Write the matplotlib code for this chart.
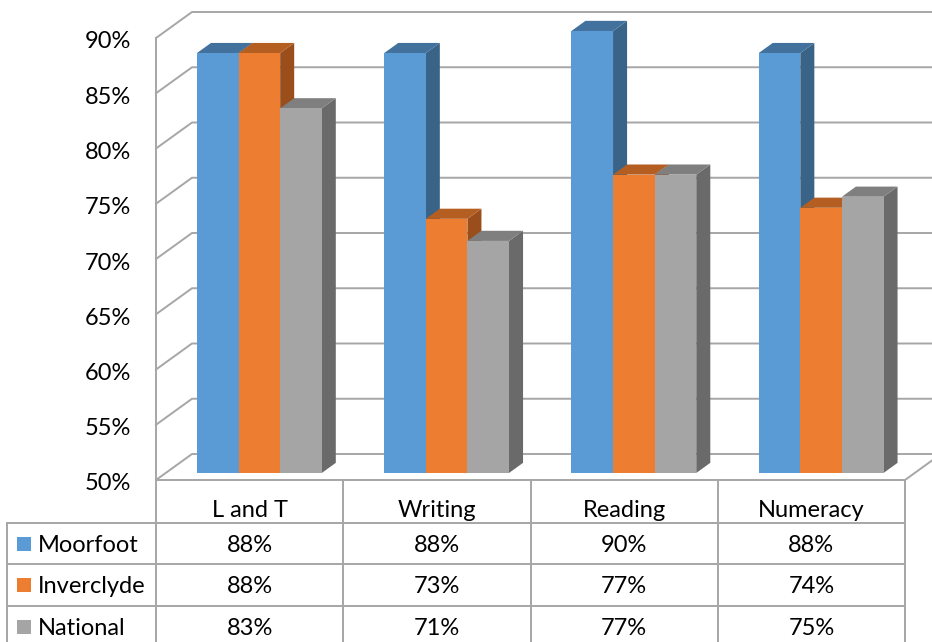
import matplotlib.pyplot as plt
from matplotlib.patches import Polygon, Rectangle
from matplotlib import transforms

plt.rcParams['font.family'] = ['Lato', 'DejaVu Sans']

categories = ["L and T", "Writing", "Reading", "Numeracy"]
series = ["Moorfoot", "Inverclyde", "National"]
moorfoot = [88, 88, 90, 88]
inverclyde = [88, 73, 77, 74]
national = [83, 71, 77, 75]
values = [moorfoot, inverclyde, national]
y_ticks = [50, 55, 60, 65, 70, 75, 80, 85, 90]

front = ["#5B9BD5", "#ED7D31", "#A5A5A5"]
top = ["#41719C", "#B45F21", "#7F7F7F"]
side = ["#3A6388", "#9A4E1B", "#6A6A6A"]
grid_col = "#A6A6A6"
FS = 17

W, H = 932, 642
fig = plt.figure(figsize=(W / 100, H / 100), dpi=100)

# front plane of the plot area, in pixels
left, right, y_top, y_bot = 156, 905, 38, 480
ax = fig.add_axes([left / W, 1 - y_bot / H, (right - left) / W, (y_bot - y_top) / H])
ax.set_xlim(0, len(categories))
ax.set_ylim(50, 90)
ax.axis("off")

# oblique depth: one full depth unit moves 36px right and 26px up
ZX = 36 / ((right - left) / len(categories))
ZY = 26 / ((y_bot - y_top) / 40)


def proj(x, y, z):
    return (x + z * ZX, y + z * ZY)


# walls: gridlines run along the left wall and across the back wall
for v in y_ticks:
    pts = [proj(0, v, 0), proj(0, v, 1), proj(len(categories), v, 1)]
    ax.plot(*zip(*pts), color=grid_col, lw=1.4, clip_on=False, zorder=1)
ax.plot([0, 0], [50, 90], color=grid_col, lw=1.4, clip_on=False, zorder=1)
ax.plot(*zip(proj(len(categories), 50, 0), proj(len(categories), 50, 1)),
        color=grid_col, lw=1.4, clip_on=False, zorder=1)

# bars
gap = 1.5
bw = 1 / (len(series) + gap)
zf, zb = 0.27, 0.66
for i in range(len(categories)):
    x_start = i + gap * bw / 2
    for j, vals in enumerate(values):
        x0 = x_start + j * bw
        x1 = x0 + bw
        v = vals[i]
        zo = 3 + i * 10 + j * 3
        side_poly = [proj(x1, 50, zf), proj(x1, 50, zb), proj(x1, v, zb), proj(x1, v, zf)]
        top_poly = [proj(x0, v, zf), proj(x1, v, zf), proj(x1, v, zb), proj(x0, v, zb)]
        front_poly = [proj(x0, 50, zf), proj(x1, 50, zf), proj(x1, v, zf), proj(x0, v, zf)]
        ax.add_patch(Polygon(side_poly, closed=True, fc=side[j], ec="none", zorder=zo, clip_on=False))
        ax.add_patch(Polygon(top_poly, closed=True, fc=top[j], ec="none", zorder=zo + 1, clip_on=False))
        ax.add_patch(Polygon(front_poly, closed=True, fc=front[j], ec="none", zorder=zo + 2, clip_on=False))

# y tick labels
lab_tr = transforms.offset_copy(ax.transData, fig=fig, x=-25, y=-10.5, units="dots")
for v in y_ticks:
    ax.text(0, v, f"{v}%", transform=lab_tr, ha="right", va="baseline",
            fontsize=FS, color="#000000")

# data table underneath, laid out in pixels
tab = fig.add_axes([0, 0, 1, 1], zorder=-1)
tab.set_xlim(0, W)
tab.set_ylim(H, 0)
tab.axis("off")

col_w = (right - left) / len(categories)
col_x = [left + k * col_w for k in range(len(categories) + 1)]
row_y = [y_bot, 523, 564, 606]
tcol = "#A6A6A6"

tab.plot([left, right], [row_y[0], row_y[0]], color=tcol, lw=1.4)
for ry in row_y[1:]:
    tab.plot([7, right], [ry, ry], color=tcol, lw=1.4)
tab.plot([7, 7], [row_y[1], H], color=tcol, lw=1.4)
tab.plot([left, left], [y_bot, H], color=tcol, lw=1.4)
for cx in col_x[1:]:
    tab.plot([cx, cx], [y_bot, H], color=tcol, lw=1.4)

for k, name in enumerate(categories):
    tab.text((col_x[k] + col_x[k + 1]) / 2, 517, name, ha="center", va="baseline", fontsize=FS)

baselines = [552, 593, 635]
for j, name in enumerate(series):
    tab.add_patch(Rectangle((17, baselines[j] - 15), 14, 14, fc=front[j], ec="none"))
    tab.text(38, baselines[j], name, ha="left", va="baseline", fontsize=FS)
    for k in range(len(categories)):
        tab.text((col_x[k] + col_x[k + 1]) / 2, baselines[j], f"{values[j][k]}%",
                 ha="center", va="baseline", fontsize=FS)

fig.savefig("out.png", dpi=100)
